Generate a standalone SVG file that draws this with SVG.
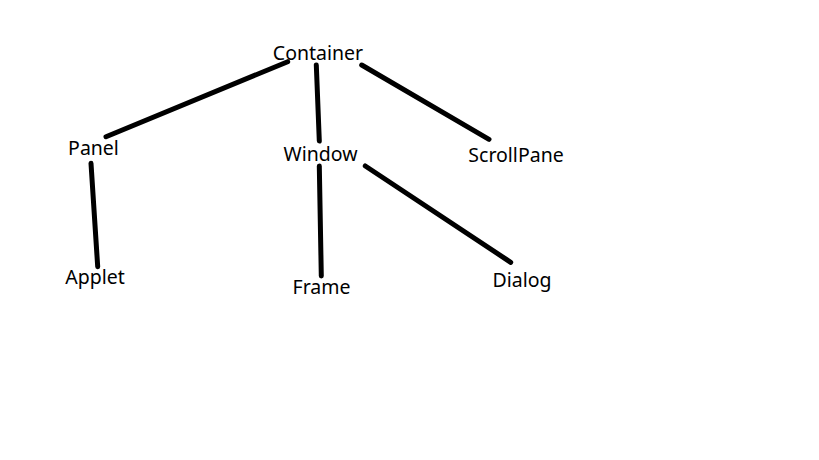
<svg xmlns="http://www.w3.org/2000/svg" width="819" height="460" viewBox="0 0 819 460">
<style>
.lbl{font-family:"Noto Sans","DejaVu Sans",sans-serif;font-size:19.5px;fill:#000;text-anchor:middle}
.edge{stroke:#000;stroke-width:5;stroke-linecap:round;fill:none}
</style>
<rect width="819" height="460" fill="#fff"/>
<g id="connectors">
<line class="edge" x1="287.7" y1="61.7" x2="106" y2="136.7"/>
<line class="edge" x1="316.3" y1="65" x2="319.3" y2="141"/>
<line class="edge" x1="361.7" y1="65" x2="489" y2="139.3"/>
<line class="edge" x1="91" y1="163.3" x2="97.7" y2="266.7"/>
<line class="edge" x1="319.3" y1="166" x2="321.3" y2="276"/>
<line class="edge" x1="365.3" y1="166" x2="510.7" y2="262.3"/>
</g>
<g id="container"><text class="lbl" x="318" y="59.5">Container</text></g>
<g id="panel"><text class="lbl" x="93.5" y="154.5">Panel</text></g>
<g id="window"><text class="lbl" x="320.5" y="160.5">Window</text></g>
<g id="scrollpane"><text class="lbl" x="516" y="161.5">ScrollPane</text></g>
<g id="applet"><text class="lbl" x="95" y="283.5">Applet</text></g>
<g id="frame"><text class="lbl" x="321.5" y="293.5">Frame</text></g>
<g id="dialog"><text class="lbl" x="522" y="286.5">Dialog</text></g>
</svg>
